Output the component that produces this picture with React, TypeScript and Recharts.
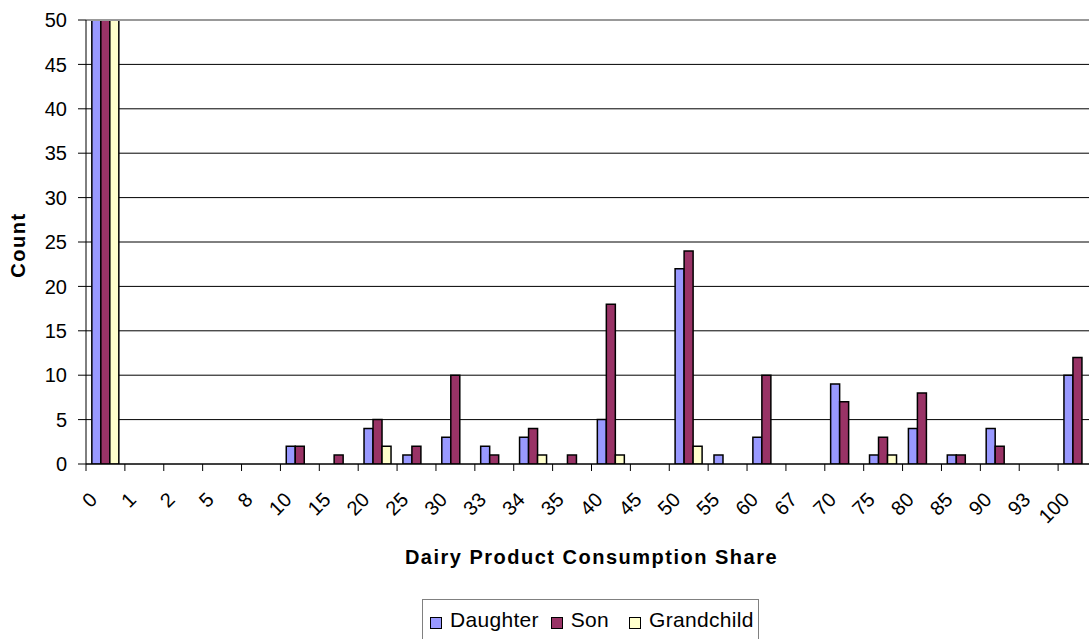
import React from "react";
import {
  Bar,
  BarChart,
  CartesianGrid,
  ReferenceLine,
  XAxis,
  YAxis,
} from "recharts";

// categories on the x axis (consumption share, %)
const shares = [
  "0", "1", "2", "5", "8", "10", "15", "20", "25", "30", "33", "34", "35",
  "40", "45", "50", "55", "60", "67", "70", "75", "80", "85", "90", "93", "100",
];

// counts per group (first category runs off the top of the axis)
const daughter = [180, 0, 0, 0, 0, 2, 0, 4, 1, 3, 2, 3, 0, 5, 0, 22, 1, 3, 0, 9, 1, 4, 1, 4, 0, 10];
const son = [160, 0, 0, 0, 0, 2, 1, 5, 2, 10, 1, 4, 1, 18, 0, 24, 0, 10, 0, 7, 3, 8, 1, 2, 0, 12];
const grandchild = [90, 0, 0, 0, 0, 0, 0, 2, 0, 0, 0, 1, 0, 1, 0, 2, 0, 0, 0, 0, 1, 0, 0, 0, 0, 0];

const yTicks = [0, 5, 10, 15, 20, 25, 30, 35, 40, 45, 50];

const series = [
  { key: "daughter", name: "Daughter", color: "#9999FF" },
  { key: "son", name: "Son", color: "#993366" },
  { key: "grandchild", name: "Grandchild", color: "#FFFFCC" },
];

const data = shares.map((s, i) => ({
  share: s,
  daughter: daughter[i],
  son: son[i],
  grandchild: grandchild[i],
}));

const FONT = "'Liberation Sans', Arial, sans-serif";
const CHART_W = 1100;
const CHART_H = 639;
const PLOT_TOP = 20;
const PLOT_BOTTOM = 464;
const PLOT_LEFT = 86;
const PLOT_RIGHT = 1097;
const HALF_BAND = (PLOT_RIGHT - PLOT_LEFT) / shares.length / 2;
const LEGEND_GAPS = [12, 20, 0];

function ShareTick(props: any) {
  const { x, payload } = props;
  return (
    <g>
      <line
        x1={x - HALF_BAND}
        x2={x - HALF_BAND}
        y1={PLOT_BOTTOM}
        y2={PLOT_BOTTOM + 7}
        stroke="#000"
        strokeWidth={1}
      />
      <text
        transform={`translate(${x - 7},${PLOT_BOTTOM + 37}) rotate(-45)`}
        textAnchor="end"
        fontSize={20}
        fontFamily={FONT}
        fill="#000"
      >
        {payload.value}
      </text>
    </g>
  );
}

export default function App() {
  return (
    <div
      style={{
        position: "fixed",
        left: 0,
        top: 0,
        width: 1089,
        height: 639,
        overflow: "hidden",
        background: "#fff",
        fontFamily: FONT,
      }}
    >
      <BarChart
        width={CHART_W}
        height={CHART_H}
        data={data}
        margin={{ top: PLOT_TOP, right: CHART_W - PLOT_RIGHT, bottom: CHART_H - PLOT_BOTTOM - 60, left: 0 }}
        barCategoryGap="15%"
        barGap={0}
      >
        <CartesianGrid vertical={false} stroke="#000" strokeWidth={1} />
        <XAxis
          dataKey="share"
          interval={0}
          height={60}
          tickSize={7}
          tickMargin={0}
          tickLine={false}
          axisLine={{ stroke: "#000", strokeWidth: 1 }}
          tick={<ShareTick />}
          label={{
            content: () => (
              <text
                x={(PLOT_LEFT + PLOT_RIGHT) / 2}
                y={564}
                textAnchor="middle"
                fontSize={20}
                fontWeight="bold"
                letterSpacing={1.5}
                fontFamily={FONT}
                fill="#000"
              >
                Dairy Product Consumption Share
              </text>
            ),
          }}
        />
        <YAxis
          width={PLOT_LEFT}
          domain={[0, 50]}
          ticks={yTicks}
          allowDataOverflow
          interval={0}
          tickSize={8}
          tickMargin={11}
          tickLine={{ stroke: "#000" }}
          axisLine={{ stroke: "#000", strokeWidth: 1 }}
          tick={{ fontSize: 20, fill: "#000", fontFamily: FONT }}
          label={{
            content: () => (
              <text
                transform={`translate(25,245) rotate(-90)`}
                textAnchor="middle"
                fontSize={20}
                fontWeight="bold"
                letterSpacing={1.5}
                fontFamily={FONT}
                fill="#000"
              >
                Count
              </text>
            ),
          }}
        />
        {series.map((s) => (
          <Bar
            key={s.key}
            dataKey={s.key}
            name={s.name}
            fill={s.color}
            stroke="#000"
            strokeWidth={1.5}
            isAnimationActive={false}
          />
        ))}
        <ReferenceLine y={50} stroke="#999" strokeWidth={2} />
      </BarChart>
      <div
        style={{
          position: "absolute",
          left: 422,
          top: 599,
          width: 337,
          height: 50,
          border: "1px solid #808080",
          boxSizing: "border-box",
          display: "flex",
          alignItems: "flex-start",
          justifyContent: "flex-start",
          paddingTop: 8,
          paddingLeft: 7,
          fontSize: 21,
          letterSpacing: 0.3,
          color: "#000",
        }}
      >
        {series.map((s, i) => (
          <div
            key={s.key}
            style={{ display: "flex", alignItems: "center", marginRight: LEGEND_GAPS[i] }}
          >
            <span
              style={{
                display: "inline-block",
                position: "relative",
                top: 3,
                width: 10,
                height: 10,
                background: s.color,
                border: "1px solid #000",
                marginRight: 8,
              }}
            />
            <span style={{ lineHeight: "24px" }}>{s.name}</span>
          </div>
        ))}
      </div>
    </div>
  );
}
